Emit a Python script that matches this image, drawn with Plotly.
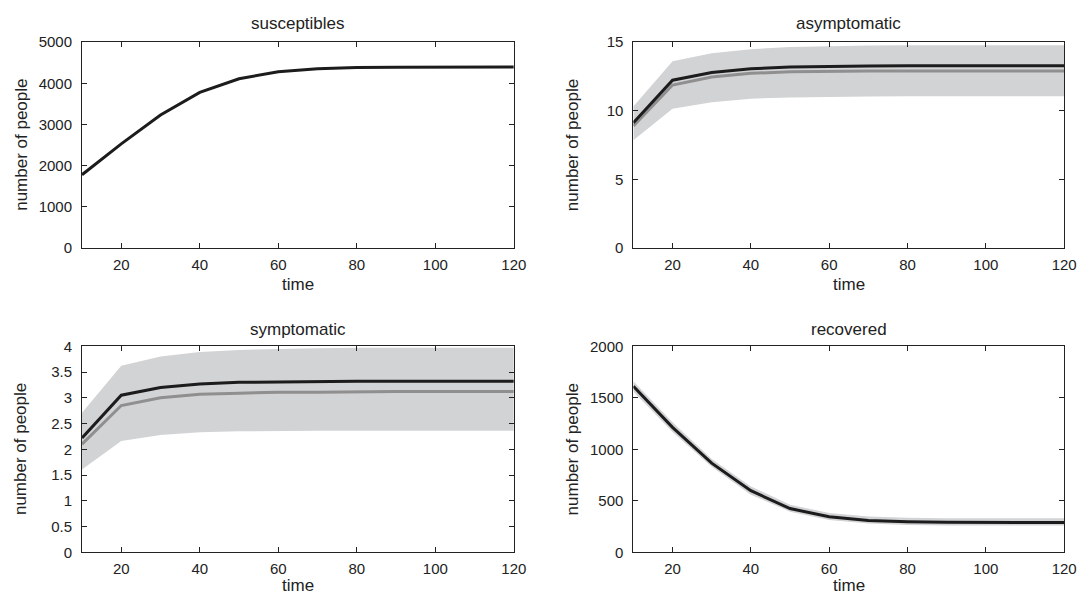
import plotly.graph_objects as go

# time grid shared by all four compartments
time = [10, 20, 30, 40, 50, 60, 70, 80, 90, 100, 110, 120]

# susceptibles
sus_mean = [1780, 2530, 3230, 3780, 4110, 4280, 4350, 4380, 4390, 4393, 4394, 4395]

# asymptomatic
asy_mean = [9.12, 12.22, 12.78, 13.05, 13.18, 13.23, 13.26, 13.27, 13.28, 13.28, 13.28, 13.28]
asy_alt = [8.9, 11.87, 12.45, 12.72, 12.84, 12.88, 12.9, 12.9, 12.9, 12.9, 12.9, 12.9]
asy_upper = [10.3, 13.6, 14.18, 14.48, 14.64, 14.7, 14.74, 14.76, 14.76, 14.76, 14.76, 14.76]
asy_lower = [7.85, 10.15, 10.62, 10.88, 10.97, 11.02, 11.04, 11.05, 11.06, 11.06, 11.06, 11.06]

# symptomatic
sym_mean = [2.22, 3.05, 3.2, 3.27, 3.3, 3.31, 3.31, 3.32, 3.32, 3.32, 3.32, 3.32]
sym_alt = [2.1, 2.85, 3.0, 3.07, 3.09, 3.11, 3.11, 3.12, 3.12, 3.12, 3.12, 3.12]
sym_upper = [2.71, 3.62, 3.8, 3.89, 3.93, 3.95, 3.96, 3.97, 3.97, 3.97, 3.97, 3.97]
sym_lower = [1.61, 2.16, 2.28, 2.33, 2.35, 2.36, 2.36, 2.36, 2.36, 2.36, 2.36, 2.36]

# recovered
rec_mean = [1612, 1213, 866, 598, 425, 346, 309, 296, 291, 290, 290, 290]
rec_upper = [1660, 1262, 905, 640, 462, 382, 347, 335, 331, 330, 330, 330]
rec_lower = [1562, 1168, 830, 560, 395, 315, 280, 265, 261, 260, 260, 260]

titles = ["susceptibles", "asymptomatic", "symptomatic", "recovered"]
y_ranges = [[0, 5000], [0, 15], [0, 4], [0, 2000]]
y_dticks = [1000, 5, 0.5, 500]
x_ticks = [20, 40, 60, 80, 100, 120]

BAND = "#d2d3d5"
GREY = "#8f8f8f"
DARK = "#1c1c1c"
TEXT = "#222222"
FONT = "Liberation Sans, Arial, sans-serif"

W, H = 1092, 607
# panel boxes in pixels: (left, right, top, bottom)
boxes = [(83, 520, 34, 246), (641, 1077, 34, 246),
         (83, 520, 347, 559), (641, 1077, 347, 559)]
# distance of the panel title above / x-axis title below each row
title_gap = [19, 19, 17, 17]
xlabel_gap = [37, 37, 34, 34]

fig = go.Figure()


def axis_names(i):
    n = "" if i == 0 else str(i + 1)
    return "x" + n, "y" + n


def add_band(i, upper, lower):
    xa, ya = axis_names(i)
    fig.add_trace(go.Scatter(x=time, y=lower, mode="lines", line=dict(width=0, color=BAND),
                             xaxis=xa, yaxis=ya, showlegend=False, hoverinfo="skip"))
    fig.add_trace(go.Scatter(x=time, y=upper, mode="lines", line=dict(width=0, color=BAND),
                             fill="tonexty", fillcolor=BAND,
                             xaxis=xa, yaxis=ya, showlegend=False, hoverinfo="skip"))


def add_line(i, y, color):
    xa, ya = axis_names(i)
    fig.add_trace(go.Scatter(x=time, y=y, mode="lines", line=dict(width=3, color=color),
                             xaxis=xa, yaxis=ya, showlegend=False))


# susceptibles
add_line(0, sus_mean, DARK)
# asymptomatic
add_band(1, asy_upper, asy_lower)
add_line(1, asy_alt, GREY)
add_line(1, asy_mean, DARK)
# symptomatic
add_band(2, sym_upper, sym_lower)
add_line(2, sym_alt, GREY)
add_line(2, sym_mean, DARK)
# recovered
add_band(3, rec_upper, rec_lower)
add_line(3, rec_mean, DARK)

layout = dict(
    width=W, height=H,
    margin=dict(l=0, r=0, t=0, b=0),
    paper_bgcolor="white", plot_bgcolor="white",
    font=dict(family=FONT, size=15, color=TEXT),
    showlegend=False,
)

annotations = []
for i, (l, r, t, b) in enumerate(boxes):
    n = "" if i == 0 else str(i + 1)
    xdom = [l / W, r / W]
    ydom = [1 - b / H, 1 - t / H]
    axis_common = dict(
        showline=True, linecolor=TEXT, linewidth=1, mirror="ticks",
        ticks="inside", ticklen=5, tickwidth=1, tickcolor=TEXT,
        showgrid=False, zeroline=False, tickfont=dict(size=15, family=FONT, color=TEXT),
    )
    layout["xaxis" + n] = dict(
        domain=xdom, range=[10, 120], tickvals=x_ticks, anchor="y" + n,
        ticklabelstandoff=3, **axis_common,
    )
    layout["yaxis" + n] = dict(
        domain=ydom, range=y_ranges[i], dtick=y_dticks[i], tick0=0, anchor="x" + n,
        ticklabelstandoff=6, **axis_common,
    )
    cx = (l + r) / 2 / W
    annotations.append(dict(text=titles[i], x=cx, y=1 - (t - title_gap[i]) / H,
                            xref="paper", yref="paper", showarrow=False,
                            font=dict(size=17, family=FONT, color=TEXT),
                            xanchor="center", yanchor="middle"))
    annotations.append(dict(text="time", x=cx, y=1 - (b + xlabel_gap[i]) / H,
                            xref="paper", yref="paper", showarrow=False,
                            font=dict(size=17, family=FONT, color=TEXT),
                            xanchor="center", yanchor="middle"))
    annotations.append(dict(text="number of people", x=(l - 62) / W, y=1 - (t + b) / 2 / H,
                            xref="paper", yref="paper", textangle=-90, showarrow=False,
                            font=dict(size=17, family=FONT, color=TEXT),
                            xanchor="center", yanchor="middle"))

layout["annotations"] = annotations
fig.update_layout(**layout)

fig.write_html("out.html")
